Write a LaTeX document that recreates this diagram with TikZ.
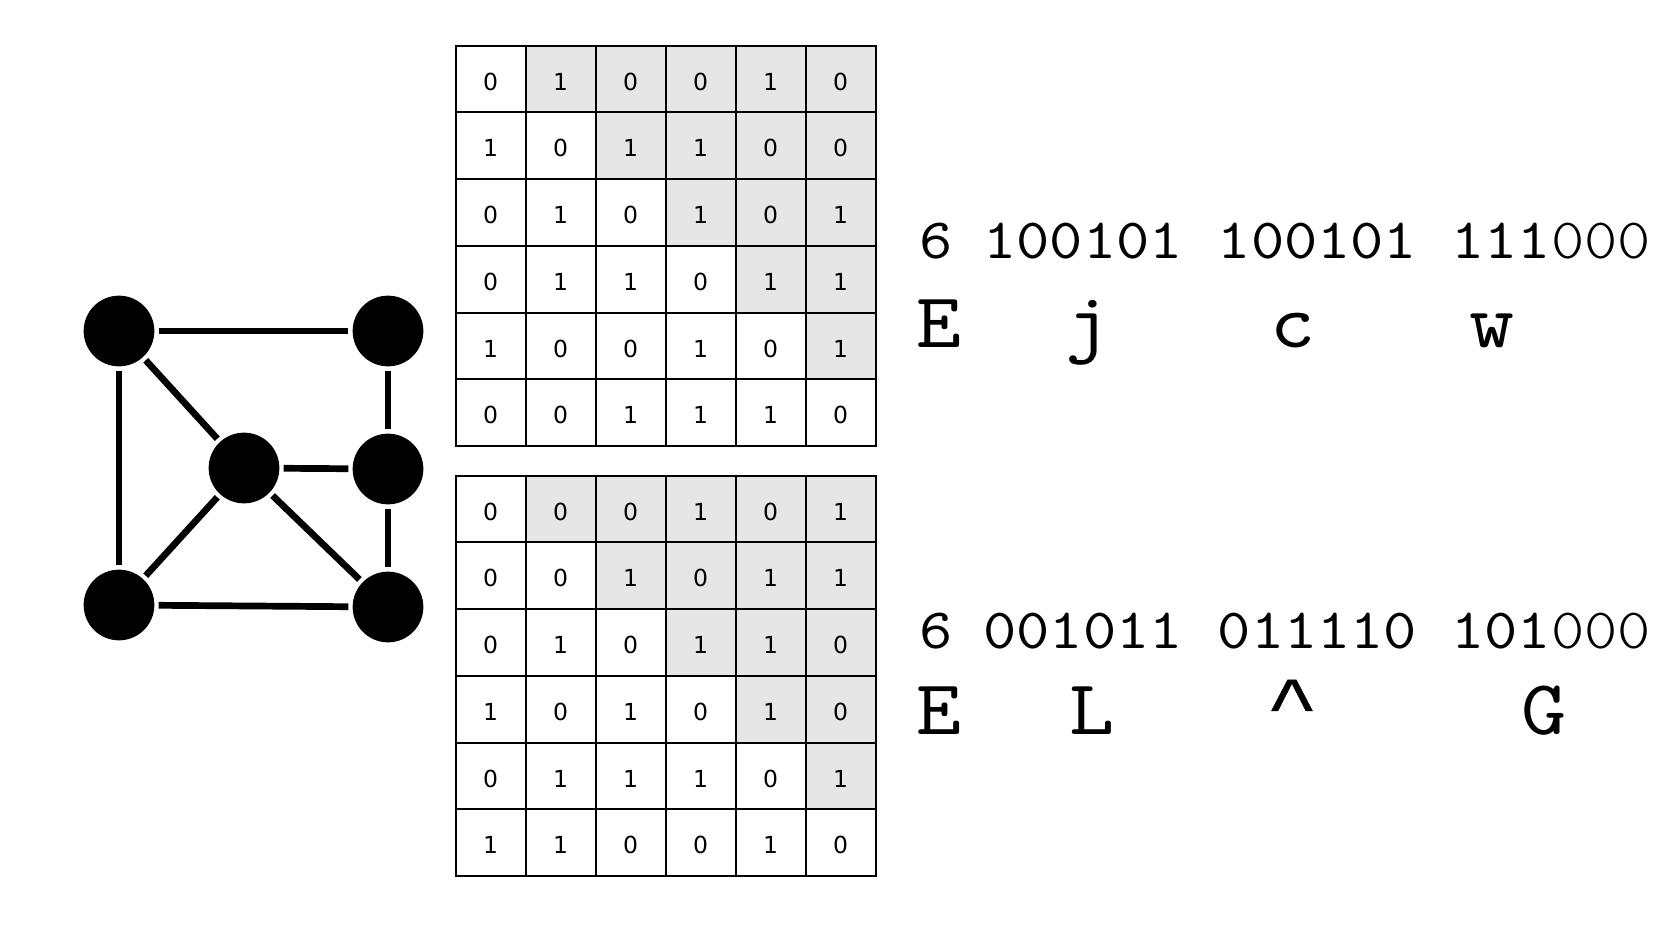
\documentclass[tikz,border=0pt]{standalone}
\usepackage{fontspec}
\newfontfamily\numfont[FakeStretch=1.11]{lmmono10-regular.otf}
\newfontfamily\numlight[FakeStretch=1.11]{lmmonolt10-regular.otf}
\newfontfamily\letfont[FakeStretch=1.1]{lmmono10-regular.otf}
\newfontfamily\caretfont[FakeStretch=1.25,FakeBold=0.6]{Liberation Mono}
\newfontfamily\cellfont{DejaVu Sans}
\definecolor{cellgray}{RGB}{230,230,230}
\tikzset{
  cell/.style={draw=black, line width=2pt, minimum width=70pt, minimum height=66.7pt,
    inner sep=0pt, outer sep=0pt, text height=22.4pt, text depth=0pt,
    font=\cellfont\fontsize{23.5}{24}\selectfont},
  shadedcell/.style={cell, fill=cellgray},
  plaincell/.style={cell, fill=white},
  vtx/.style={circle, fill=black, minimum size=70.7pt, inner sep=0pt, outer sep=4.3pt},
  edgeline/.style={line width=6.7pt},
  numrow/.style={anchor=base, inner sep=0pt, font=\numfont\fontsize{57}{60}\selectfont},
  letter/.style={anchor=base, inner sep=0pt, font=\letfont\fontsize{78}{80}\selectfont},
  caret/.style={anchor=base, inner sep=0pt, font=\caretfont\fontsize{70}{72}\selectfont},
}
\begin{document}
\begin{tikzpicture}[x=1pt, y=-1pt]
\useasboundingbox (0,0) rectangle (1671,937);
\fill[white] (0,0) rectangle (1671,937);

% graph
\node[vtx] (tl) at (119,331) {};
\node[vtx] (tr) at (388,331) {};
\node[vtx] (c)  at (244,468) {};
\node[vtx] (mr) at (388,469) {};
\node[vtx] (bl) at (119,605) {};
\node[vtx] (br) at (388,607) {};
\draw[edgeline] (tl) -- (tr);
\draw[edgeline] (tl) -- (bl);
\draw[edgeline] (tl) -- (c);
\draw[edgeline] (tr) -- (mr);
\draw[edgeline] (c) -- (mr);
\draw[edgeline] (c) -- (bl);
\draw[edgeline] (c) -- (br);
\draw[edgeline] (mr) -- (br);
\draw[edgeline] (bl) -- (br);

% top matrix
\foreach \rowvals [count=\r] in {{0,1,0,0,1,0},{1,0,1,1,0,0},{0,1,0,1,0,1},{0,1,1,0,1,1},{1,0,0,1,0,1},{0,0,1,1,1,0}}{
  \foreach \v [count=\c] in \rowvals {
    \ifnum\c>\r
      \node[shadedcell] (A-\r-\c) at ({455.7+70*(\c-0.5)},{45.7+66.7*(\r-0.5)}) {\v};
    \else
      \node[plaincell] (A-\r-\c) at ({455.7+70*(\c-0.5)},{45.7+66.7*(\r-0.5)}) {\v};
    \fi
  }
}
% bottom matrix
\foreach \rowvals [count=\r] in {{0,0,0,1,0,1},{0,0,1,0,1,1},{0,1,0,1,1,0},{1,0,1,0,1,0},{0,1,1,1,0,1},{1,1,0,0,1,0}}{
  \foreach \v [count=\c] in \rowvals {
    \ifnum\c>\r
      \node[shadedcell] (B-\r-\c) at ({455.7+70*(\c-0.5)},{475.7+66.7*(\r-0.5)}) {\v};
    \else
      \node[plaincell] (B-\r-\c) at ({455.7+70*(\c-0.5)},{475.7+66.7*(\r-0.5)}) {\v};
    \fi
  }
}

% top code
\node[numrow] (tn0) at (936,258.3) {6};
\node[numrow] (tn1) at (1083,258.3) {100101};
\node[numrow] (tn2) at (1317.5,258.3) {100101};
\node[numrow] (tn3) at (1551,258.3) {111{\numlight 000}};
\node[letter] (tl0) at (939,347) {E};
\node[letter] (tl1) at (1088,347) {j};
\node[letter] (tl2) at (1293,347) {c};
\node[letter] (tl3) at (1492,347) {w};

% bottom code
\node[numrow] (bn0) at (936,648.3) {6};
\node[numrow] (bn1) at (1083,648.3) {001011};
\node[numrow] (bn2) at (1317.5,648.3) {011110};
\node[numrow] (bn3) at (1551,648.3) {101{\numlight 000}};
\node[letter] (bl0) at (939,734) {E};
\node[letter] (bl1) at (1092,734) {L};
\node[caret] (bl2) at (1292,726) {\textasciicircum};
\node[letter] (bl3) at (1544,734) {G};
\end{tikzpicture}
\end{document}
